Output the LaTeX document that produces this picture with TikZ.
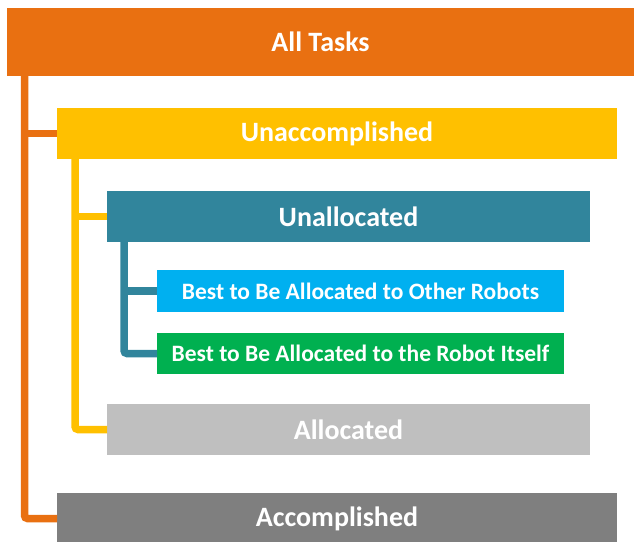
\documentclass[tikz,border=0pt]{standalone}
\usepackage{fontspec}
\setmainfont{Carlito}
\definecolor{TaskOrange}{HTML}{E97011}
\definecolor{TaskYellow}{HTML}{FFC000}
\definecolor{TaskTeal}{HTML}{31859C}
\definecolor{TaskBlue}{HTML}{00B0F0}
\definecolor{TaskGreen}{HTML}{00B050}
\definecolor{TaskLightGray}{HTML}{BFBFBF}
\definecolor{TaskDarkGray}{HTML}{7F7F7F}

\begin{document}
\begin{tikzpicture}[x=1pt, y=-1pt,
    taskbox/.style={anchor=north west, inner sep=0pt, outer sep=0pt,
        text=white, font=\fontsize{28}{32}\selectfont\bfseries},
    subbox/.style={taskbox, font=\fontsize{23.5}{27}\selectfont\bfseries},
    branch/.style={line width=7.5pt, draw=#1, rounded corners=3pt}]

    \useasboundingbox (0, 0) rectangle (634, 541);

    % Cajas

    \node[taskbox, fill=TaskOrange, minimum width=627pt, minimum height=68pt]
        (allTasks) at (7, 8) {All Tasks};
    \node[taskbox, fill=TaskYellow, minimum width=560pt, minimum height=51pt]
        (unaccomplished) at (57, 108) {Unaccomplished};
    \node[taskbox, fill=TaskTeal, minimum width=483pt, minimum height=51pt]
        (unallocated) at (107, 191) {Unallocated};
    \node[subbox, fill=TaskBlue, minimum width=407pt, minimum height=42pt]
        (bestOther) at (157, 270) {Best to Be Allocated to Other Robots};
    \node[subbox, fill=TaskGreen, minimum width=407pt, minimum height=41pt]
        (bestItself) at (157, 333) {Best to Be Allocated to the Robot Itself};
    \node[taskbox, fill=TaskLightGray, minimum width=483pt, minimum height=51pt]
        (allocated) at (107, 404) {Allocated};
    \node[taskbox, fill=TaskDarkGray, minimum width=560pt, minimum height=51pt]
        (accomplished) at (57, 493) {Accomplished};

    % Conectores

    \coordinate (orangeTrunk) at (24.5, 76);
    \coordinate (yellowTrunk) at (75, 159);
    \coordinate (tealTrunk) at (124, 242);

    \draw[branch=TaskOrange] (orangeTrunk) |- (accomplished.west);
    \draw[branch=TaskOrange] (orangeTrunk |- unaccomplished.west) -- (unaccomplished.west);

    \draw[branch=TaskYellow] (yellowTrunk) |- (allocated.west);
    \draw[branch=TaskYellow] (yellowTrunk |- unallocated.west) -- (unallocated.west);

    \draw[branch=TaskTeal] (tealTrunk) |- (bestItself.west);
    \draw[branch=TaskTeal] (tealTrunk |- bestOther.west) -- (bestOther.west);

\end{tikzpicture}
\end{document}
